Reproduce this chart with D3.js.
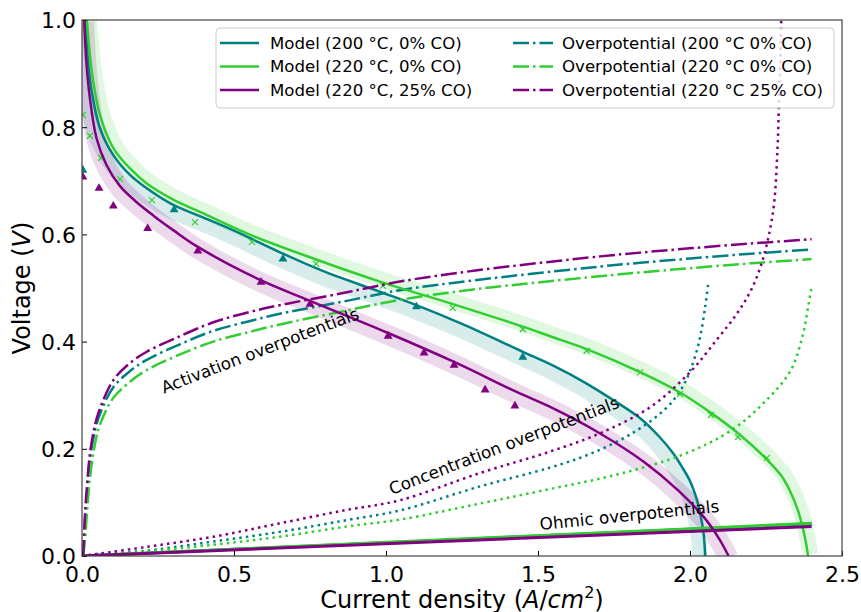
<!DOCTYPE html>
<html><head><meta charset="utf-8">
<script src="https://cdn.jsdelivr.net/npm/d3@7"></script>
<style>body{margin:0;background:#fff}svg{font-family:"DejaVu Sans",sans-serif}</style>
</head><body><svg id="c" width="861" height="612"></svg>
<script>
// ---------- data ----------
const xTicks = [0, 0.5, 1.0, 1.5, 2.0, 2.5];
const yTicks = [0, 0.2, 0.4, 0.6, 0.8, 1.0];

// Model curves
const model200X = [0.011,0.021,0.032,0.059,0.103,0.158,0.213,0.30,0.388,0.5,0.661,0.8,0.98,1.10,1.25,1.45,1.55,1.65,1.75,1.836,1.90,1.944,1.975,2.0,2.02,2.035,2.045,2.05];
const model200V = [1.0,0.916,0.866,0.798,0.748,0.711,0.686,0.655,0.634,0.607,0.564,0.53,0.493,0.468,0.433,0.381,0.355,0.325,0.29,0.257,0.222,0.192,0.165,0.14,0.11,0.075,0.04,0.0];
const model220X = [0.016,0.026,0.037,0.059,0.103,0.158,0.213,0.30,0.388,0.55,0.761,0.98,1.22,1.45,1.54,1.66,1.836,1.967,2.069,2.158,2.253,2.30,2.33,2.355,2.372,2.383,2.388];
const model220V = [1.0,0.935,0.885,0.823,0.761,0.723,0.695,0.665,0.642,0.60,0.555,0.512,0.47,0.428,0.41,0.386,0.343,0.305,0.267,0.229,0.18,0.15,0.12,0.085,0.05,0.02,0.0];
const modelCOX = [0.007,0.015,0.026,0.048,0.081,0.125,0.18,0.235,0.30,0.377,0.586,0.75,1.007,1.224,1.43,1.54,1.70,1.85,1.96,2.045,2.095,2.127];
const modelCOV = [1.0,0.916,0.854,0.779,0.729,0.69,0.66,0.635,0.608,0.578,0.515,0.476,0.416,0.362,0.306,0.278,0.23,0.175,0.123,0.073,0.033,0.0];

// Measured data
const data200X = [0.003,0.303,0.661,1.10,1.45];
const data200V = [0.72,0.646,0.554,0.465,0.371];
const data220X = [0.003,0.026,0.063,0.125,0.23,0.372,0.559,0.77,0.99,1.22,1.45,1.66,1.836,1.967,2.069,2.158,2.253];
const data220V = [0.823,0.784,0.743,0.703,0.664,0.623,0.586,0.545,0.504,0.463,0.423,0.383,0.343,0.302,0.263,0.222,0.183];
const dataCOX = [0.003,0.056,0.103,0.216,0.381,0.589,0.75,1.007,1.125,1.224,1.326,1.424];
const dataCOV = [0.707,0.686,0.653,0.611,0.569,0.511,0.470,0.410,0.379,0.356,0.310,0.280];

// Activation overpotentials
const actX = [0.004,0.01,0.015,0.026,0.043,0.059,0.103,0.158,0.213,0.322,0.432,0.55,0.651,0.871,1.046,1.3,1.704,1.836,2.0,2.2,2.4];
const act200V = [0.0,0.07,0.11,0.18,0.235,0.265,0.315,0.345,0.366,0.395,0.42,0.438,0.452,0.476,0.496,0.515,0.54,0.547,0.555,0.564,0.572];
const act220V = [0.0,0.03,0.07,0.145,0.21,0.245,0.295,0.325,0.347,0.376,0.40,0.418,0.432,0.458,0.478,0.498,0.522,0.529,0.537,0.546,0.554];
const actCOV  = [0.0,0.08,0.12,0.19,0.245,0.275,0.328,0.36,0.381,0.41,0.436,0.455,0.468,0.492,0.512,0.533,0.559,0.566,0.574,0.583,0.591];

// Concentration overpotentials
const conc200X = [0,0.213,0.432,0.651,0.871,1.046,1.31,1.54,1.67,1.81,1.92,1.97,2.0,2.03,2.05,2.06];
const conc200V = [0,0.01,0.027,0.045,0.067,0.085,0.13,0.165,0.19,0.229,0.275,0.31,0.345,0.4,0.465,0.509];
const conc220X = [0,0.2,0.432,0.651,0.871,1.046,1.31,1.54,1.76,1.98,2.14,2.25,2.33,2.37,2.39,2.40];
const conc220V = [0,0.008,0.021,0.036,0.055,0.068,0.098,0.125,0.152,0.19,0.236,0.29,0.345,0.41,0.47,0.502];
const concCOX = [0,0.213,0.432,0.651,0.871,1.046,1.31,1.54,1.70,1.87,2.0,2.09,2.154,2.20,2.235,2.26,2.277,2.287,2.293,2.298,2.302];
const concCOV = [0,0.017,0.036,0.061,0.086,0.104,0.155,0.195,0.228,0.278,0.343,0.405,0.452,0.495,0.545,0.60,0.66,0.75,0.85,0.95,1.05];

// Ohmic overpotentials
const ohmX = [0, 2.4];
const ohm200V = [0, 0.060];
const ohm220V = [0, 0.061];
const ohmCOV = [0, 0.055];

const legendModel = ["Model (200 °C, 0% CO)","Model (220 °C, 0% CO)","Model (220 °C, 25% CO)"];
const legendOver = ["Overpotential (200 °C 0% CO)","Overpotential (220 °C 0% CO)","Overpotential (220 °C 25% CO)"];
const annotations = ["Activation overpotentials","Concentration overpotentials","Ohmic overpotentials"];

// ---------- drawing ----------
const C = {teal:"#008080", green:"#32cd32", purple:"#800080"};
const svg = d3.select("#c");
const L = 82, R = 842, T = 20, B = 556;
const x = d3.scaleLinear().domain([0,2.5]).range([L,R]);
const y = d3.scaleLinear().domain([0,1]).range([B,T]);
const zip = (a,b)=>a.map((v,i)=>[v,b[i]]);
const line = d3.line().x(d=>x(d[0])).y(d=>y(d[1])).curve(d3.curveCatmullRom.alpha(0.5));
const lin = d3.line().x(d=>x(d[0])).y(d=>y(d[1]));

svg.append("defs").append("clipPath").attr("id","clip")
  .append("rect").attr("x",L).attr("y",T).attr("width",R-L).attr("height",B-T);
const g = svg.append("g").attr("clip-path","url(#clip)");

const series = [
  {c:C.teal, m:zip(model200X,model200V), d:zip(data200X,data200V), mk:"tri", a:zip(actX,act200V), k:zip(conc200X,conc200V), o:zip(ohmX,ohm200V), bw:15, bo:[-5,5]},
  {c:C.green, m:zip(model220X,model220V), d:zip(data220X,data220V), mk:"x", a:zip(actX,act220V), k:zip(conc220X,conc220V), o:zip(ohmX,ohm220V), bw:16, bo:[2,-2]},
  {c:C.purple, m:zip(modelCOX,modelCOV), d:zip(dataCOX,dataCOV), mk:"tri", a:zip(actX,actCOV), k:zip(concCOX,concCOV), o:zip(ohmX,ohmCOV), bw:20, bo:[0,2]}
];

// uncertainty bands
series.forEach(s=>{
  g.append("path").attr("d",line(s.m)).attr("fill","none").attr("stroke",s.c)
   .attr("stroke-opacity",0.15).attr("stroke-width",s.bw).attr("stroke-linejoin","round")
   .attr("transform",`translate(${s.bo[0]},${s.bo[1]})`);
});

const tri = d3.symbol().type(d3.symbolTriangle).size(34);
series.forEach(s=>{
  g.append("path").attr("d",line(s.m)).attr("fill","none").attr("stroke",s.c).attr("stroke-width",2.5);
  if(s.mk==="tri"){
    g.selectAll(null).data(s.d).enter().append("path").attr("d",tri)
      .attr("transform",d=>`translate(${x(d[0])},${y(d[1])})`).attr("fill",s.c);
  } else {
    g.selectAll(null).data(s.d).enter().append("path")
      .attr("d","M-3,-3L3,3M-3,3L3,-3")
      .attr("transform",d=>`translate(${x(d[0])},${y(d[1])})`).attr("stroke",s.c).attr("stroke-width",1.2).attr("fill","none");
  }
  g.append("path").attr("d",line(s.a)).attr("fill","none").attr("stroke",s.c).attr("stroke-width",2.5)
   .attr("stroke-dasharray","16,4,2.5,4");
  g.append("path").attr("d",line(s.k)).attr("fill","none").attr("stroke",s.c).attr("stroke-width",2.5)
   .attr("stroke-dasharray","2.5,4.1");
  g.append("path").attr("d",lin(s.o)).attr("fill","none").attr("stroke",s.c).attr("stroke-width",3);
});

// annotations
const annPos = [{x:262, y:356, r:-21},{x:506, y:451, r:-21},{x:630, y:521, r:-5.8}];
svg.selectAll("text.ann").data(annotations).enter().append("text").attr("class","ann")
  .attr("transform",(d,i)=>`translate(${annPos[i].x},${annPos[i].y}) rotate(${annPos[i].r})`)
  .attr("text-anchor","middle").attr("font-size",16.8).attr("fill","#000").text(d=>d);

// axes
const xa = svg.append("g").attr("transform",`translate(0,${B})`)
  .call(d3.axisBottom(x).tickValues(xTicks).tickFormat(d3.format(".1f")).tickSizeInner(-5).tickSizeOuter(0).tickPadding(7));
const ya = svg.append("g").attr("transform",`translate(${L},0)`)
  .call(d3.axisLeft(y).tickValues(yTicks).tickFormat(d3.format(".1f")).tickSizeInner(-5).tickSizeOuter(0).tickPadding(6));
[xa,ya].forEach(a=>{
  a.selectAll("text").attr("font-size",22).attr("fill","#000").attr("font-family","DejaVu Sans");
  a.selectAll(".tick line").attr("stroke","#000");
  a.select(".domain").remove();
});
xa.selectAll("text").attr("dy","0.85em");
ya.selectAll("text").attr("dy","0.36em");
svg.append("rect").attr("x",L).attr("y",T).attr("width",R-L).attr("height",B-T)
  .attr("fill","none").attr("stroke","#444").attr("stroke-width",1.2);

// axis labels
svg.append("text").attr("x",(L+R)/2).attr("y",608).attr("text-anchor","middle").attr("font-size",24)
  .html('Current density (<tspan font-style="italic">A</tspan>/<tspan font-style="italic">cm</tspan><tspan font-size="16" dy="-10">2</tspan><tspan dy="10">)</tspan>');
svg.append("text").attr("transform",`translate(30,${(T+B)/2}) rotate(-90)`).attr("text-anchor","middle").attr("font-size",24)
  .html('Voltage (<tspan font-style="italic">V</tspan>)');

// legend
const lg = svg.append("g");
lg.append("rect").attr("x",216).attr("y",28).attr("width",618).attr("height",80).attr("rx",4)
  .attr("fill","#fff").attr("fill-opacity",0.8).attr("stroke","#ccc");
const cols = [C.teal, C.green, C.purple];
cols.forEach((c,i)=>{
  const yy = 43 + i*23.5;
  lg.append("line").attr("x1",220).attr("x2",259).attr("y1",yy).attr("y2",yy).attr("stroke",c).attr("stroke-width",2.5);
  lg.append("text").attr("x",270).attr("y",yy).attr("dy","0.36em").attr("font-size",16.6).text(legendModel[i]);
  lg.append("line").attr("x1",513).attr("x2",553).attr("y1",yy).attr("y2",yy).attr("stroke",c).attr("stroke-width",2.5).attr("stroke-dasharray","16,4,2.5,4");
  lg.append("text").attr("x",562).attr("y",yy).attr("dy","0.36em").attr("font-size",16.6).text(legendOver[i]);
});
</script></body></html>
